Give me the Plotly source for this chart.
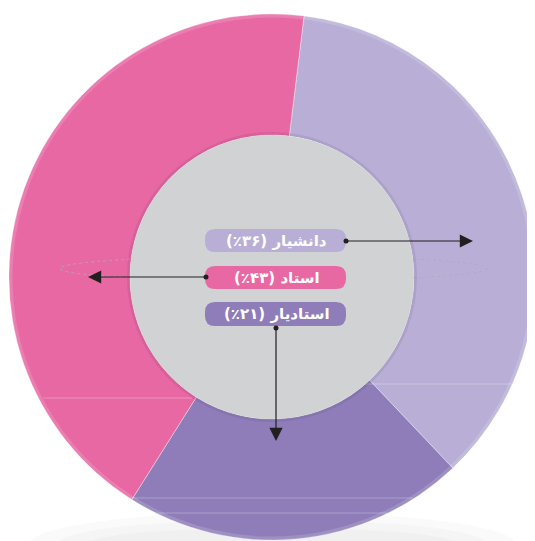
import plotly.graph_objects as go

# ---- data ----
labels = ["دانشیار", "استادیار", "استاد"]
values = [36, 21, 43]
pct_text = ["(٪۳۶)", "(٪۲۱)", "(٪۴۳)"]
colors = ["#B9AFD6", "#8E7DB8", "#E868A3"]

W, H = 535, 541
OFF = 8  # page body margin offset
cx, cy, R = 272, 277, 263
hole = 0.54

fcx, fcy = cx - OFF, cy - OFF  # centre in figure pixels

fig = go.Figure()
fig.add_trace(go.Pie(
    labels=labels, values=values, sort=False, direction="clockwise",
    rotation=7, hole=hole, textinfo="none", hoverinfo="label+percent",
    marker=dict(colors=colors, line=dict(color="rgba(255,255,255,0.35)", width=1)),
    domain=dict(x=[(fcx - R) / W, (fcx + R) / W], y=[(H - fcy - R) / H, (H - fcy + R) / H]),
    showlegend=False,
))

shapes = []
# soft floor shadow under the ring (stacked for a gradient look)
for k, (x0, x1, y0, y1) in enumerate([(30, 515, 512, 575), (60, 485, 520, 565), (90, 455, 528, 558)]):
    shapes.append(dict(type="circle", xref="x", yref="y", x0=x0, x1=x1, y0=y0, y1=y1,
                       fillcolor="rgba(0,0,0,0.018)", line=dict(width=0), layer="below"))
# faint highlight streaks on the ring
for x0, x1, y in [(43, 192, 398), (365, 512, 384), (128, 413, 498), (157, 387, 513)]:
    shapes.append(dict(type="line", xref="x", yref="y", x0=x0, x1=x1, y0=y0 if False else y, y1=y,
                       line=dict(width=0.8, color="rgba(255,255,255,0.35)"), layer="above"))
# faint dashed ellipse (hidden behind centre disc)
for col in ["rgba(200,200,210,0.7)", "rgba(140,140,155,0.45)"]:
    shapes.append(dict(type="circle", xref="x", yref="y", x0=60, x1=487, y0=256, y1=281,
                       fillcolor="rgba(0,0,0,0)", line=dict(width=0.8, color=col, dash="dot"),
                       layer="above"))
# soft inner bevel ring
ri = R * hole
shapes.append(dict(type="circle", xref="x", yref="y", x0=cx - ri - 1.5, x1=cx + ri + 1.5, y0=cy - ri - 1.5,
                   y1=cy + ri + 1.5, fillcolor="rgba(0,0,0,0)",
                   line=dict(width=3, color="rgba(60,40,80,0.10)"), layer="above"))
# gray centre disc
shapes.append(dict(type="circle", xref="x", yref="y", x0=cx - ri, x1=cx + ri, y0=cy - ri, y1=cy + ri,
                   fillcolor="#D1D2D4", line=dict(width=0), layer="above"))
# outer highlight ring
shapes.append(dict(type="circle", xref="x", yref="y", x0=cx - R + 2, x1=cx + R - 2, y0=cy - R + 2, y1=cy + R - 2,
                   fillcolor="rgba(0,0,0,0)", line=dict(width=3, color="rgba(255,255,255,0.15)"), layer="above"))


def pill(x0, y0, x1, y1, r):
    return (f"M {x0 + r},{y0} L {x1 - r},{y0} Q {x1},{y0} {x1},{y0 + r} L {x1},{y1 - r} "
            f"Q {x1},{y1} {x1 - r},{y1} L {x0 + r},{y1} Q {x0},{y1} {x0},{y1 - r} "
            f"L {x0},{y0 + r} Q {x0},{y0} {x0 + r},{y0} Z")


# label boxes: order top to bottom: دانشیار, استاد, استادیار
box_order = [0, 2, 1]
box_y = [(229, 252), (266, 289), (302, 326)]
bx0, bx1 = 205, 346
annotations = []
for (y0, y1), idx in zip(box_y, box_order):
    shapes.append(dict(type="path", xref="x", yref="y", path=pill(bx0, y0, bx1, y1, 10),
                       fillcolor=colors[idx], line=dict(width=0), layer="above"))
    annotations.append(dict(x=(bx0 + bx1) / 2 + 1, y=(y0 + y1) / 2, xref="x", yref="y",
                            text=f"<b>{pct_text[idx]} {labels[idx]}</b>", showarrow=False,
                            font=dict(family="DejaVu Sans", size=15, color="white"),
                            xanchor="center", yanchor="middle"))

# arrows (tail dot -> tip)
arrows = [((346, 241), (473, 241)), ((206, 277), (88, 277)), ((276, 328), (276, 441))]
for (tx, ty), (hx, hy) in arrows:
    annotations.append(dict(x=hx, y=hy, ax=tx, ay=ty, xref="x", yref="y", axref="x", ayref="y",
                            text="", showarrow=True, arrowhead=2, arrowsize=2.2, arrowwidth=1.2,
                            arrowcolor="#231F20"))
    shapes.append(dict(type="circle", xref="x", yref="y", x0=tx - 2.5, x1=tx + 2.5, y0=ty - 2.5, y1=ty + 2.5,
                       fillcolor="#231F20", line=dict(width=0), layer="above"))

fig.update_layout(
    width=W, height=H, margin=dict(l=0, r=0, t=0, b=0),
    paper_bgcolor="white", plot_bgcolor="rgba(0,0,0,0)",
    xaxis=dict(range=[OFF, W + OFF], visible=False, fixedrange=True),
    yaxis=dict(range=[H + OFF, OFF], visible=False, fixedrange=True),
    shapes=shapes, annotations=annotations, showlegend=False,
)

fig.write_html("out.html")
